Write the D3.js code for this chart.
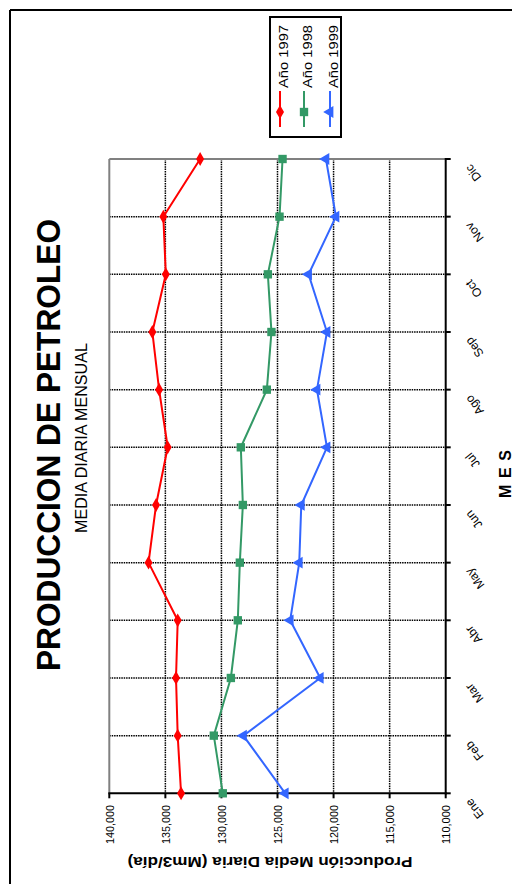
<!DOCTYPE html>
<html>
<head>
<meta charset="utf-8">
<script src="https://cdn.jsdelivr.net/npm/d3@7"></script>
<style>
  body { margin: 0; background: #fff; }
  svg { display: block; font-family: "Liberation Sans", Arial, sans-serif; }
</style>
</head>
<body>
<div id="chart"></div>
<script>
// data
const months = ["Ene", "Feb", "Mar", "Abr", "May", "Jun", "Jul", "Ago", "Sep", "Oct", "Nov", "Dic"];
const years = ["Año 1997", "Año 1998", "Año 1999"];
const prod1997 = [133600, 133900, 134050, 133900, 136500, 135830, 134790, 135560, 136160, 134960, 135180, 131900];
const prod1998 = [129880, 130680, 129160, 128540, 128360, 128090, 128270, 125950, 125540, 125860, 124820, 124550];
const prod1999 = [124310, 128040, 121190, 123870, 123060, 122880, 120590, 121480, 120590, 122230, 119790, 120680];
const valueTicks = [140000, 135000, 130000, 125000, 120000, 115000, 110000];

const series = [
    {name: years[0], values: prod1997, color: "#ff0000", symbol: d3.symbolDiamond, size: 55, rot: 0},
    {name: years[1], values: prod1998, color: "#339966", symbol: d3.symbolSquare, size: 70, rot: 0},
    {name: years[2], values: prod1999, color: "#3366ff", symbol: d3.symbolTriangle, size: 60, rot: -90}
];

const width = 512, height = 884;

const svg = d3.select("#chart").append("svg")
    .attr("width", width)
    .attr("height", height);

// page frame
svg.append("line").attr("x1", 10).attr("x2", 10).attr("y1", 10).attr("y2", height)
    .attr("stroke", "#000").attr("stroke-width", 2);
svg.append("line").attr("x1", 10).attr("x2", width).attr("y1", 10).attr("y2", 10)
    .attr("stroke", "#000").attr("stroke-width", 2);

// chart is drawn turned on its side: values run left->right, months bottom->top
const x = d3.scaleLinear().domain([140000, 110000]).range([109.3, 445.7]);
const y = d3.scalePoint().domain(months).range([793.3, 159]);

const plotL = x(140000), plotR = x(110000), plotT = y("Dic"), plotB = y("Ene");

// dotted grid
svg.append("g")
    .selectAll("line")
    .data(valueTicks.slice(1, -1))
    .join("line")
    .attr("x1", d => x(d)).attr("x2", d => x(d))
    .attr("y1", plotT).attr("y2", plotB)
    .attr("stroke", "#000").attr("stroke-width", 1.5)
    .attr("stroke-dasharray", "1.5,0.9");

svg.append("g")
    .selectAll("line")
    .data(months.slice(1, -1))
    .join("line")
    .attr("x1", plotL).attr("x2", plotR)
    .attr("y1", d => y(d)).attr("y2", d => y(d))
    .attr("stroke", "#000").attr("stroke-width", 1.5)
    .attr("stroke-dasharray", "1.5,0.9");

// plot border (grey sides)
svg.append("line").attr("x1", plotL).attr("x2", plotL).attr("y1", plotT).attr("y2", plotB)
    .attr("stroke", "#808080").attr("stroke-width", 2);
svg.append("line").attr("x1", plotL).attr("x2", plotR).attr("y1", plotT).attr("y2", plotT)
    .attr("stroke", "#808080").attr("stroke-width", 2);

// value axis along bottom
const valueAxis = svg.append("g");
valueAxis.append("line").attr("x1", plotL - 1).attr("x2", plotR + 1).attr("y1", plotB).attr("y2", plotB)
    .attr("stroke", "#000").attr("stroke-width", 2);
valueAxis.selectAll("line.tick")
    .data(valueTicks)
    .join("line")
    .attr("class", "tick")
    .attr("x1", d => x(d)).attr("x2", d => x(d))
    .attr("y1", plotB).attr("y2", plotB + 5)
    .attr("stroke", "#000").attr("stroke-width", 2);
valueAxis.selectAll("text")
    .data(valueTicks)
    .join("text")
    .attr("transform", d => `translate(${x(d) + 0.5},805) rotate(-90)`)
    .attr("text-anchor", "end")
    .attr("dominant-baseline", "central")
    .attr("font-size", 10.5)
    .attr("textLength", 39)
    .attr("lengthAdjust", "spacingAndGlyphs")
    .text(d3.format(","));

svg.append("text")
    .attr("transform", "translate(270,862) rotate(180)")
    .attr("text-anchor", "middle")
    .attr("dominant-baseline", "central")
    .attr("font-size", 15.5)
    .attr("font-weight", "bold")
    .attr("textLength", 285)
    .attr("lengthAdjust", "spacingAndGlyphs")
    .text("Producción Media Diaria (Mm3/día)");

// month axis along right
const monthAxis = svg.append("g");
monthAxis.append("line").attr("x1", plotR).attr("x2", plotR).attr("y1", plotT - 1).attr("y2", plotB + 1)
    .attr("stroke", "#000").attr("stroke-width", 2);
monthAxis.selectAll("line.tick")
    .data(months)
    .join("line")
    .attr("class", "tick")
    .attr("x1", plotR).attr("x2", plotR + 5)
    .attr("y1", d => y(d)).attr("y2", d => y(d))
    .attr("stroke", "#000").attr("stroke-width", 2);
monthAxis.selectAll("text")
    .data(months)
    .join("text")
    .attr("transform", d => `translate(468,${y(d) + 7}) rotate(-128)`)
    .attr("text-anchor", "end")
    .attr("dominant-baseline", "central")
    .attr("font-size", 12)
    .text(d => d);

svg.append("text")
    .attr("transform", "translate(505,474) rotate(-90)")
    .attr("text-anchor", "middle")
    .attr("dominant-baseline", "central")
    .attr("font-size", 16)
    .attr("font-weight", "bold")
    .attr("textLength", 48)
    .attr("lengthAdjust", "spacing")
    .text("M E S");

// series lines and markers
const line = d3.line()
    .x(d => x(d.v))
    .y(d => y(d.m));

series.forEach(s => {
    const pts = s.values.map((v, i) => ({v: v, m: months[i]}));
    svg.append("path")
        .datum(pts)
        .attr("d", line)
        .attr("fill", "none")
        .attr("stroke", s.color)
        .attr("stroke-width", 2);
    svg.append("g")
        .selectAll("path")
        .data(pts)
        .join("path")
        .attr("d", d3.symbol().type(s.symbol).size(s.size))
        .attr("transform", d => `translate(${x(d.v)},${y(d.m)}) rotate(${s.rot})`)
        .attr("fill", s.color);
});

// titles
svg.append("text")
    .attr("transform", "translate(48,445) rotate(-90)")
    .attr("text-anchor", "middle")
    .attr("dominant-baseline", "central")
    .attr("font-size", 33)
    .attr("font-weight", "bold")
    .attr("textLength", 452)
    .attr("lengthAdjust", "spacingAndGlyphs")
    .text("PRODUCCION DE PETROLEO");

svg.append("text")
    .attr("transform", "translate(81,438) rotate(-90)")
    .attr("text-anchor", "middle")
    .attr("dominant-baseline", "central")
    .attr("font-size", 16)
    .attr("textLength", 190)
    .attr("lengthAdjust", "spacingAndGlyphs")
    .text("MEDIA DIARIA MENSUAL");

// legend
const legend = svg.append("g");
legend.append("rect")
    .attr("x", 270).attr("y", 17).attr("width", 71).attr("height", 120)
    .attr("fill", "#fff").attr("stroke", "#000").attr("stroke-width", 2);

const legendX = [280, 304, 330];
series.forEach((s, i) => {
    const lx = legendX[i];
    legend.append("line")
        .attr("x1", lx).attr("x2", lx).attr("y1", 91).attr("y2", 127)
        .attr("stroke", s.color).attr("stroke-width", 2);
    legend.append("path")
        .attr("d", d3.symbol().type(s.symbol).size(s.size))
        .attr("transform", `translate(${lx},112) rotate(${s.rot})`)
        .attr("fill", s.color);
    legend.append("text")
        .attr("transform", `translate(${lx + 3},88) rotate(-90)`)
        .attr("dominant-baseline", "central")
        .attr("font-size", 13.5)
        .attr("textLength", 63)
        .attr("lengthAdjust", "spacingAndGlyphs")
        .text(s.name);
});
</script>
</body>
</html>
